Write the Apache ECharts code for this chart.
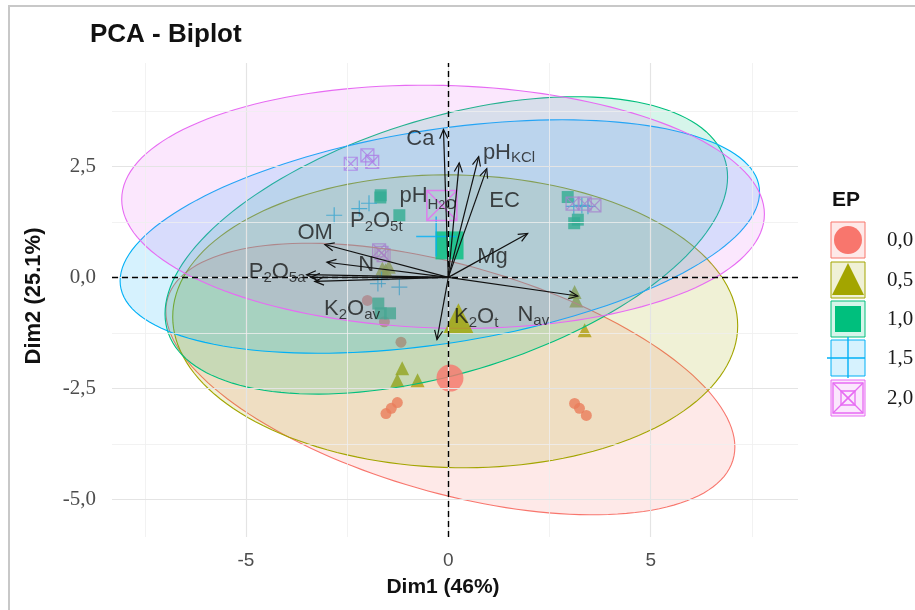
<!DOCTYPE html>
<html>
<head>
<meta charset="utf-8">
<script src="https://cdn.jsdelivr.net/npm/echarts@6/dist/echarts.min.js"></script>
<style>
  html, body { margin: 0; padding: 0; background: #fff; }
  #chart { width: 915px; height: 610px; }
</style>
</head>
<body>
<div id="chart"></div>
<script>
// ---- EP groups ----
const groups = ['0,0', '0,5', '1,0', '1,5', '2,0'];
const groupColors = ['#F8766D', '#A3A500', '#00BF7D', '#00B0F6', '#E76BF3'];

// ---- Individual scores (Dim1, Dim2) for each EP level ----
const ep00X = [-1.54, -1.41, -1.26, 3.12, 3.24, 3.41, -2.00, -1.58, -1.17];
const ep00Y = [-3.07, -2.95, -2.82, -2.84, -2.95, -3.11, -0.52, -1.00, -1.46];
const ep05X = [-1.14, -1.26, -0.76, 3.12, 3.16, 3.37, -1.63, -1.55, -1.47];
const ep05Y = [-2.05, -2.32, -2.32, -0.33, -0.52, -1.19, 0.20, 0.16, 0.24];
const ep10X = [-1.67, -1.21, -1.68, 2.95, 3.11, 3.20, -1.73, -1.44, -1.67];
const ep10Y = [1.85, 1.40, 1.80, 1.81, 1.22, 1.30, -0.59, -0.81, -0.81];
const ep15X = [-2.82, -2.20, -1.96, -1.21, -1.74, -1.65, 3.10, 3.30, 3.45];
const ep15Y = [1.40, 1.55, 1.67, -0.22, -0.14, -0.05, 1.60, 1.62, 1.60];
const ep20X = [-2.41, -2.00, -1.88, -1.71, -1.60, -1.65, 3.07, 3.37, 3.61];
const ep20Y = [2.56, 2.75, 2.60, 0.61, 0.50, 0.55, 1.66, 1.66, 1.62];

// ---- Group mean points ----
const meanX = [0.04, 0.25, 0.03, -0.30, -0.16];
const meanY = [-2.27, -0.92, 0.72, 0.92, 1.62];

// ---- Concentration ellipses: centre, half extents along Dim1/Dim2, correlation ----
const ellCX = [0.05, 0.17, -0.05, -0.21, -0.13];
const ellCY = [-2.29, -0.99, 0.72, 0.92, 1.59];
const ellHX = [7.03, 6.98, 6.95, 7.90, 7.94];
const ellHY = [3.06, 3.30, 3.35, 2.63, 2.74];
const ellR  = [-0.50, -0.03, 0.46, 0.38, -0.06];

// ---- Variable loadings (arrow tips) ----
const varNames = ['Ca', 'pH_KCl', 'pH_H2O', 'EC', 'Mg', 'OM', 'P2O5t', 'P2O5a', 'N', 'K2Oav', 'K2Ot', 'Nav'];
const varX = [-0.12, 0.75, 0.27, 0.95, 1.96, -3.05, -3.00, -3.50, -3.40, -3.30, -0.28, 3.20];
const varY = [3.33, 2.72, 2.58, 2.45, 0.99, 0.74, 0.34, 0.06, 0.00, -0.09, -1.40, -0.42];

// ---- Variable labels (_{..} subscript, __{..} second-level subscript) and positions ----
const varLabels = ['Ca', 'pH_{KCl}', 'pH_{H}__{2}_{O}', 'EC', 'Mg', 'OM', 'P_{2}O_{5t}', 'P_{2}O_{5a}', 'N', 'K_{2}O_{av}', 'K_{2}O_{t}', 'N_{av}'];
const labelX = [-0.69, 1.50, -0.50, 1.39, 1.09, -3.29, -1.78, -4.23, -2.03, -2.38, 0.69, 2.10];
const labelY = [3.13, 2.79, 1.78, 1.73, 0.45, 1.01, 1.24, 0.09, 0.27, -0.74, -0.92, -0.88];

// ---- Axes ----
const xTicks = [-5, 0, 5];
const yTicks = [-5, -2.5, 0, 2.5];
const xGridMajor = [-5, 0, 5];
const xGridMinor = [-7.5, -2.5, 2.5, 7.5];
const yGridMajor = [-5, -2.5, 0, 2.5];
const yGridMinor = [-3.75, -1.25, 1.25, 3.75];

const pointsX = [ep00X, ep05X, ep10X, ep15X, ep20X];
const pointsY = [ep00Y, ep05Y, ep10Y, ep15Y, ep20Y];

const PLUS = 'path://M0,5L10,5M5,0L5,10';
const BOXX = 'path://M0,0L10,0L10,10L0,10ZM0,0L10,10M10,0L0,10';
const shapes = ['circle', 'triangle', 'rect', PLUS, BOXX];
const smallSize = [11, 14, 12, 16, 13];
const bigSize = [27, 30, 28, 40, 30];
const hollow = [false, false, false, true, true];

const SANS = '"Liberation Sans", Arial, sans-serif';
const SERIF = '"Liberation Serif", serif';

function rgba(hex, a) {
  const n = parseInt(hex.slice(1), 16);
  return 'rgba(' + (n >> 16) + ',' + ((n >> 8) & 255) + ',' + (n & 255) + ',' + a + ')';
}

function pointStyle(i, w) {
  return hollow[i]
    ? { color: 'rgba(0,0,0,0)', borderColor: groupColors[i], borderWidth: w }
    : { color: groupColors[i] };
}

// 'K_{2}O_{av}' -> rich text tokens
function toRich(str) {
  return str.split(/(__?\{[^}]*\})/).filter(Boolean).map(function (p) {
    if (p.indexOf('__{') === 0) return '{ss|' + p.slice(3, -1) + '}';
    if (p.indexOf('_{') === 0) return '{s|' + p.slice(2, -1) + '}';
    return '{m|' + p + '}';
  }).join('');
}

const series = [];

// light grid lines
const gridLineData = [];
xGridMajor.forEach(v => gridLineData.push({ xAxis: v, lineStyle: { color: '#e4e4e4', width: 1.2, type: 'solid' } }));
xGridMinor.forEach(v => gridLineData.push({ xAxis: v, lineStyle: { color: '#efefef', width: 0.8, type: 'solid' } }));
yGridMajor.forEach(v => gridLineData.push({ yAxis: v, lineStyle: { color: '#e4e4e4', width: 1.2, type: 'solid' } }));
yGridMinor.forEach(v => gridLineData.push({ yAxis: v, lineStyle: { color: '#efefef', width: 0.8, type: 'solid' } }));
series.push({
  type: 'scatter', z: 0, silent: true, symbolSize: 0, data: [[0, 0]],
  markLine: { silent: true, symbol: ['none', 'none'], label: { show: false }, data: gridLineData }
});

// individuals
groups.forEach(function (g, i) {
  series.push({
    type: 'scatter', name: g, z: 2,
    symbol: shapes[i], symbolSize: smallSize[i],
    itemStyle: pointStyle(i, 1.2),
    data: pointsX[i].map((x, k) => [x, pointsY[i][k]])
  });
});

// ellipses
series.push({
  type: 'custom', z: 3, silent: true,
  data: ellCX.map((c, i) => [c, ellCY[i], ellHX[i], ellHY[i], ellR[i]]),
  renderItem: function (params, api) {
    const cx = api.value(0), cy = api.value(1), hx = api.value(2), hy = api.value(3), r = api.value(4);
    const s = Math.sqrt(1 - r * r);
    const pts = [];
    for (let k = 0; k < 160; k++) {
      const t = 2 * Math.PI * k / 160;
      pts.push(api.coord([cx + hx * Math.cos(t), cy + hy * (r * Math.cos(t) + s * Math.sin(t))]));
    }
    const c = groupColors[params.dataIndex];
    return { type: 'polygon', shape: { points: pts }, style: { fill: rgba(c, 0.16), stroke: c, lineWidth: 1.1 } };
  }
});

// group means
groups.forEach(function (g, i) {
  series.push({
    type: 'scatter', z: 4,
    symbol: shapes[i], symbolSize: bigSize[i],
    itemStyle: pointStyle(i, 1.5),
    data: [[meanX[i], meanY[i]]]
  });
});

// dashed zero lines
series.push({
  type: 'scatter', z: 5, silent: true, symbolSize: 0, data: [[0, 0]],
  markLine: {
    silent: true, symbol: ['none', 'none'], label: { show: false },
    lineStyle: { color: '#000', width: 1.4, type: [6, 4] },
    data: [{ xAxis: 0 }, { yAxis: 0 }]
  }
});

// variable arrows
series.push({
  type: 'custom', z: 6, silent: true,
  data: varX.map((x, i) => [x, varY[i]]),
  renderItem: function (params, api) {
    const o = api.coord([0, 0]);
    const p = api.coord([api.value(0), api.value(1)]);
    const ang = Math.atan2(p[1] - o[1], p[0] - o[0]);
    const L = 10, a = 0.42;
    const h1 = [p[0] - L * Math.cos(ang - a), p[1] - L * Math.sin(ang - a)];
    const h2 = [p[0] - L * Math.cos(ang + a), p[1] - L * Math.sin(ang + a)];
    return {
      type: 'group', children: [
        { type: 'line', shape: { x1: o[0], y1: o[1], x2: p[0], y2: p[1] }, style: { stroke: '#111', lineWidth: 1.2 } },
        { type: 'polyline', shape: { points: [h1, p, h2] }, style: { stroke: '#111', lineWidth: 1.2, fill: null } }
      ]
    };
  }
});

// variable labels
series.push({
  type: 'scatter', z: 7, silent: true, symbolSize: 0,
  data: varLabels.map(function (t, i) {
    return { value: [labelX[i], labelY[i]], label: { formatter: toRich(t) } };
  }),
  label: {
    show: true, position: 'inside',
    rich: {
      m: { fontFamily: SANS, fontSize: 22, lineHeight: 22, verticalAlign: 'top', color: '#1a1a1a' },
      s: { fontFamily: SANS, fontSize: 15, lineHeight: 24, verticalAlign: 'bottom', color: '#1a1a1a' },
      ss: { fontFamily: SANS, fontSize: 12, lineHeight: 27, verticalAlign: 'bottom', color: '#1a1a1a' }
    }
  }
});

// legend keys
const legendG = [];
const keyCY = [240, 280, 319, 358, 398];
const keyX = 848;
groups.forEach(function (g, i) {
  const cy = keyCY[i], c = groupColors[i];
  legendG.push({ type: 'rect', shape: { x: 831, y: cy - 18, width: 34, height: 36 }, style: { fill: rgba(c, 0.16), stroke: c, lineWidth: 1 } });
  if (i === 0) {
    legendG.push({ type: 'circle', shape: { cx: keyX, cy: cy, r: 14 }, style: { fill: c } });
  } else if (i === 1) {
    legendG.push({ type: 'polygon', shape: { points: [[keyX, cy - 17], [keyX - 16, cy + 15], [keyX + 16, cy + 15]] }, style: { fill: c } });
  } else if (i === 2) {
    legendG.push({ type: 'rect', shape: { x: keyX - 13, y: cy - 13, width: 26, height: 26 }, style: { fill: c } });
  } else if (i === 3) {
    legendG.push({ type: 'line', shape: { x1: keyX - 21, y1: cy, x2: keyX + 17, y2: cy }, style: { stroke: c, lineWidth: 1.4 } });
    legendG.push({ type: 'line', shape: { x1: keyX, y1: cy - 21, x2: keyX, y2: cy + 20 }, style: { stroke: c, lineWidth: 1.4 } });
  } else {
    [15, 7].forEach(function (h) {
      legendG.push({ type: 'rect', shape: { x: keyX - h, y: cy - h, width: 2 * h, height: 2 * h }, style: { fill: 'none', stroke: c, lineWidth: 1.3 } });
      legendG.push({ type: 'polyline', shape: { points: [[keyX - h, cy - h], [keyX + h, cy + h]] }, style: { fill: 'none', stroke: c, lineWidth: 1.3 } });
      legendG.push({ type: 'polyline', shape: { points: [[keyX + h, cy - h], [keyX - h, cy + h]] }, style: { fill: 'none', stroke: c, lineWidth: 1.3 } });
    });
  }
  legendG.push({ type: 'text', style: { x: 887, y: cy, text: g, font: '21px ' + SERIF, fill: '#1a1a1a', textAlign: 'left', textVerticalAlign: 'middle' } });
});

const chart = echarts.init(document.getElementById('chart'), null, { renderer: 'canvas' });
chart.setOption({
  animation: false,
  backgroundColor: '#fff',
  grid: { left: 112, right: 117, top: 63, bottom: 73 },
  xAxis: {
    type: 'value', min: -8.31, max: 8.64,
    splitLine: { show: false }, axisLine: { show: false }, axisTick: { show: false },
    axisLabel: { customValues: xTicks, margin: 14, color: '#4d4d4d', fontSize: 19, fontFamily: SANS }
  },
  yAxis: {
    type: 'value', min: -5.85, max: 4.83,
    splitLine: { show: false }, axisLine: { show: false }, axisTick: { show: false },
    axisLabel: {
      customValues: yTicks, margin: 16, color: '#4d4d4d', fontSize: 21, fontFamily: SERIF,
      formatter: v => v.toFixed(1).replace('.', ',')
    }
  },
  graphic: [
    { type: 'rect', z: -1, shape: { x: 9, y: 6, width: 930, height: 630 }, style: { fill: 'none', stroke: '#c8c8c8', lineWidth: 2 } },
    { type: 'text', style: { x: 90, y: 35, text: 'PCA - Biplot', font: 'bold 26px ' + SANS, fill: '#111', textAlign: 'left', textVerticalAlign: 'middle' } },
    { type: 'text', style: { x: 443, y: 587, text: 'Dim1 (46%)', font: 'bold 21px ' + SANS, fill: '#111', textAlign: 'center', textVerticalAlign: 'middle' } },
    { type: 'text', x: 34, y: 296, rotation: Math.PI / 2, style: { x: 0, y: 0, text: 'Dim2 (25.1%)', font: 'bold 22px ' + SANS, fill: '#111', textAlign: 'center', textVerticalAlign: 'middle' } },
    { type: 'text', style: { x: 832, y: 200, text: 'EP', font: 'bold 21px ' + SANS, fill: '#111', textAlign: 'left', textVerticalAlign: 'middle' } },
    { type: 'group', children: legendG }
  ],
  series: series
});
</script>
</body>
</html>
